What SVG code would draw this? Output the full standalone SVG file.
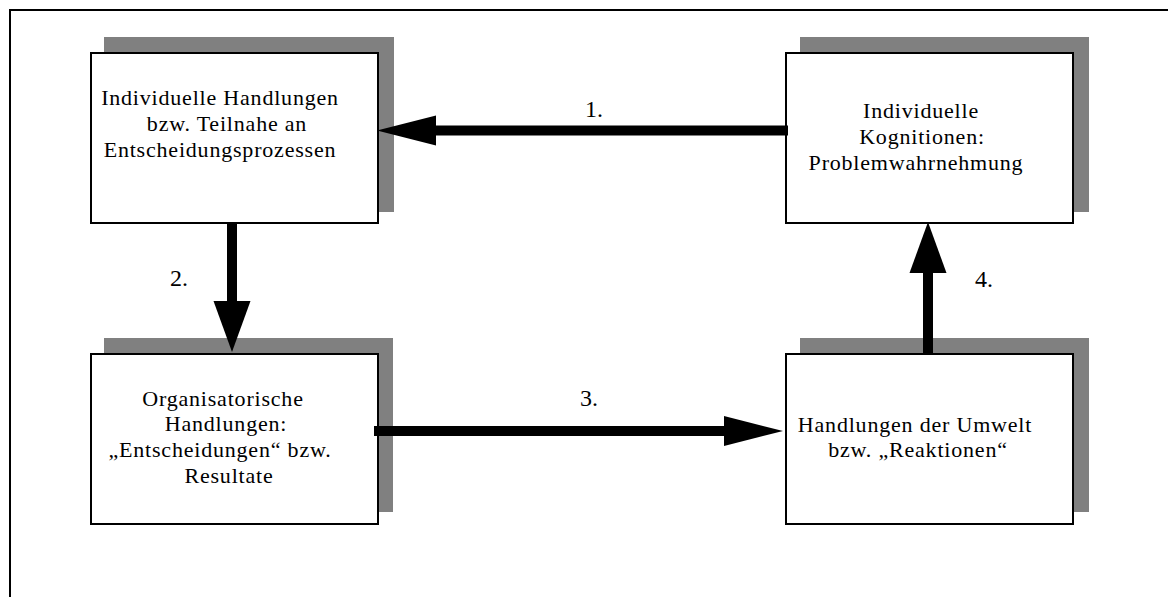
<svg xmlns="http://www.w3.org/2000/svg" width="1168" height="597" viewBox="0 0 1168 597">
<style>
.frame{fill:none;stroke:#000;stroke-width:2}
.shadow{fill:#808080}
.box{fill:#fff;stroke:#000;stroke-width:2}
.t{font-family:"Liberation Serif","Times New Roman",serif;font-size:22px;letter-spacing:0.8px;fill:#000;text-anchor:middle}
.lbl{font-family:"Liberation Serif","Times New Roman",serif;font-size:24px;fill:#000;text-anchor:middle}
.shaft{stroke:#000;stroke-width:10;fill:none}
</style>
<defs>
<marker id="headH" markerUnits="userSpaceOnUse" markerWidth="60" markerHeight="32" refX="0" refY="15" orient="auto" overflow="visible">
<path d="M0,0 L59,15 L0,30 Z" fill="#000"/>
</marker>
<marker id="headV" markerUnits="userSpaceOnUse" markerWidth="52" markerHeight="38" refX="0" refY="18.5" orient="auto" overflow="visible">
<path d="M0,0 L51,18.5 L0,37 Z" fill="#000"/>
</marker>
</defs>
<rect width="1168" height="597" fill="#fff"/>
<rect class="frame" x="10" y="10" width="1200" height="700"/>

<g id="node-individuelle-handlungen">
<rect class="shadow" x="104" y="37" width="290" height="175"/>
<rect class="box" x="91" y="53" width="287" height="170"/>
<text class="t" x="220" y="105">Individuelle Handlungen</text>
<text class="t" x="227" y="131">bzw. Teilnahe an</text>
<text class="t" x="220" y="157">Entscheidungsprozessen</text>
</g>

<g id="node-individuelle-kognitionen">
<rect class="shadow" x="800" y="37" width="289" height="175"/>
<rect class="box" x="786" y="53" width="287" height="170"/>
<text class="t" x="921" y="118">Individuelle</text>
<text class="t" x="922" y="144">Kognitionen:</text>
<text class="t" x="916" y="170">Problemwahrnehmung</text>
</g>

<g id="node-organisatorische-handlungen">
<rect class="shadow" x="104" y="338" width="289" height="174"/>
<rect class="box" x="91" y="354" width="287" height="170"/>
<text class="t" x="223" y="406">Organisatorische</text>
<text class="t" x="226" y="431">Handlungen:</text>
<text class="t" x="220" y="457">„Entscheidungen“ bzw.</text>
<text class="t" x="229" y="483">Resultate</text>
</g>

<g id="node-handlungen-umwelt">
<rect class="shadow" x="800" y="338" width="289" height="174"/>
<rect class="box" x="786" y="354" width="287" height="170"/>
<text class="t" x="915" y="432">Handlungen der Umwelt</text>
<text class="t" x="918" y="457">bzw. „Reaktionen“</text>
</g>

<g id="connectors">
<line class="shaft" x1="788" y1="130.5" x2="436" y2="130.5" marker-end="url(#headH)"/>
<line class="shaft" x1="232" y1="222" x2="232" y2="301" marker-end="url(#headV)"/>
<line class="shaft" x1="374" y1="431" x2="724" y2="431" marker-end="url(#headH)"/>
<line class="shaft" x1="928" y1="354" x2="928" y2="273" marker-end="url(#headV)"/>
<text class="lbl" x="594" y="117">1.</text>
<text class="lbl" x="179" y="286">2.</text>
<text class="lbl" x="589" y="406">3.</text>
<text class="lbl" x="984" y="287">4.</text>
</g>
</svg>
